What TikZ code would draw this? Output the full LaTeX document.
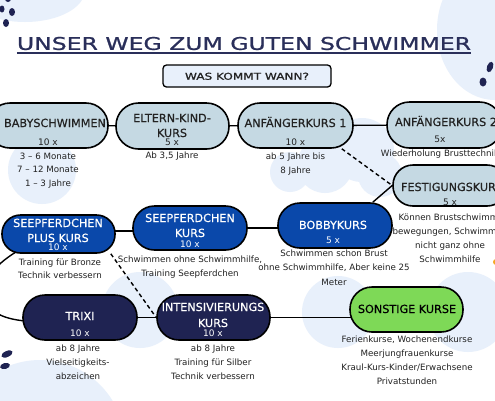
\documentclass[tikz,border=0pt]{standalone}
\usepackage{graphicx}
\usepackage{fontspec}
\setmainfont{DejaVu Sans}
\newfontfamily\headfont[FakeBold=0.9]{DejaVu Sans}
\newfontfamily\midfont[FakeBold=0.4]{DejaVu Sans}
\usetikzlibrary{calc}
\definecolor{pale}{HTML}{C5D9E3}
\definecolor{royal}{HTML}{0A48AA}
\definecolor{navy}{HTML}{1F2352}
\definecolor{lime}{HTML}{7ED957}
\definecolor{blob}{HTML}{E8F0FB}
\definecolor{ink}{HTML}{2A2F5A}
\definecolor{txt}{HTML}{222222}
\definecolor{orng}{HTML}{F5A623}
\pgfdeclarelayer{bg}
\pgfsetlayers{bg,main}
\newcommand{\txtlines}[6]{%
  \foreach \mytext [count=\i] in {#6} {
    \node[#5, anchor=base] (#1-\i) at (#2, {#3+(\i-1)*#4}) {\mytext};
  }}
\tikzset{
  pill/.style={draw=black, line width=1.6pt, inner sep=0pt},
  ttl/.style={font=\midfont\fontsize{11.2}{13}\selectfont, inner sep=0pt, text=txt},
  ttlw/.style={ttl, text=white},
  ttlk/.style={ttl, text=black},
  cnt/.style={font=\fontsize{9}{10}\selectfont, inner sep=0pt, text=txt},
  cntw/.style={cnt, text=white},
  lbl/.style={font=\fontsize{8.7}{10}\selectfont, inner sep=0pt, text=txt},
  conn/.style={line width=1.4pt, draw=black},
  dsh/.style={conn, dash pattern=on 4pt off 3pt},
  dot/.style={fill=navy}
}
\begin{document}
\begin{tikzpicture}[x=1pt,y=-1pt]
\useasboundingbox (0,0) rectangle (495,400);

% title
\node[text=ink, inner sep=0pt] (title) at (244,43.5) {\resizebox{454pt}{13pt}{\headfont UNSER WEG ZUM GUTEN SCHWIMMER}};
\draw[ink, line width=1.5pt] ([yshift=-2.5pt]title.south west) -- ([yshift=-2.5pt]title.south east);
\node[draw=black, line width=1.3pt, fill=blob, rounded corners=3.5pt, minimum width=168pt, minimum height=22pt, inner sep=0pt] (sub) at (247,76) {};
\node[inner sep=0pt, text=txt] (subt) at (247,76.3) {\resizebox{124pt}{7pt}{\headfont WAS KOMMT WANN?}};

% nodes
\node[pill, fill=pale, minimum width=120pt, minimum height=45pt, rounded corners=22pt] (baby) at (48,125.5) {};
\node[pill, fill=pale, minimum width=113pt, minimum height=46pt, rounded corners=22.5pt] (eltern) at (172.5,126) {};
\node[pill, fill=pale, minimum width=115pt, minimum height=45pt, rounded corners=22pt] (anf1) at (295.5,125.5) {};
\node[pill, fill=pale, minimum width=115pt, minimum height=46pt, rounded corners=22.5pt] (anf2) at (444.5,125) {};
\node[pill, fill=pale, minimum width=114pt, minimum height=41pt, rounded corners=20pt] (fest) at (450,185.5) {};
\node[pill, fill=royal, minimum width=113pt, minimum height=38pt, rounded corners=18.5pt] (spp) at (58.5,234) {};
\node[pill, fill=royal, minimum width=114pt, minimum height=44pt, rounded corners=21.5pt] (sk) at (190,228) {};
\node[pill, fill=royal, minimum width=114pt, minimum height=45pt, rounded corners=22pt] (bobby) at (335,225.5) {};
\node[pill, fill=navy, minimum width=114pt, minimum height=45pt, rounded corners=22pt] (trixi) at (80,317.5) {};
\node[pill, fill=navy, minimum width=113pt, minimum height=45pt, rounded corners=22pt] (intens) at (213.5,317.5) {};
\node[pill, fill=lime, minimum width=113pt, minimum height=45pt, rounded corners=22pt] (sonst) at (406.5,309.5) {};

% texts
\txtlines{babyt}{55}{127}{15}{ttl}{BABYSCHWIMMEN}
\txtlines{babyn}{48}{145.5}{0}{cnt}{10 x}
\txtlines{babyl}{48}{159}{13.5}{lbl}{3 – 6 Monate,7 – 12 Monate,1 – 3 Jahre}

\txtlines{eltt}{172}{122}{15}{ttl}{ELTERN-KIND-,KURS}
\txtlines{eltn}{172}{145.5}{0}{cnt}{5 x}
\txtlines{eltl}{172}{158.5}{14}{lbl}{{Ab 3,5 Jahre}}

\txtlines{anf1t}{295.5}{127}{15}{ttl}{ANFÄNGERKURS 1}
\txtlines{anf1n}{295.5}{145.5}{0}{cnt}{10 x}
\txtlines{anf1l}{295.5}{159}{14}{lbl}{ab 5 Jahre bis,8 Jahre}

\txtlines{anf2t}{446}{126}{15}{ttl}{ANFÄNGERKURS 2}
\txtlines{anf2n}{440}{142.5}{0}{cnt}{5x}
\txtlines{anf2l}{440}{156}{14}{lbl}{Wiederholung Brusttechnik}

\txtlines{festt}{452}{191}{15}{ttl}{FESTIGUNGSKURS}
\txtlines{festn}{450}{205.5}{0}{cnt}{5 x}
\txtlines{festl}{450}{220}{14}{lbl}{Können Brustschwimm-,{bewegungen, Schwimmen},nicht ganz ohne,Schwimmhilfe}

\txtlines{sppt}{58}{227}{15}{ttlw}{SEEPFERDCHEN,PLUS KURS}
\txtlines{sppn}{58}{250.5}{0}{cntw}{10 x}
\txtlines{sppl}{60}{265}{13}{lbl}{Training für Bronze,Technik verbessern}

\txtlines{skt}{190}{222}{15}{ttlw}{SEEPFERDCHEN,KURS}
\txtlines{skn}{190}{247.5}{0}{cntw}{10 x}
\txtlines{skl}{190}{262}{14}{lbl}{{Schwimmen ohne Schwimmhilfe,},Training Seepferdchen}

\txtlines{bobt}{333}{229}{15}{ttlw}{BOBBYKURS}
\txtlines{bobn}{333}{243.5}{0}{cntw}{5 x}
\txtlines{bobl}{334}{256}{14.5}{lbl}{Schwimmen schon Brust,{ohne Schwimmhilfe, Aber keine 25},Meter}

\txtlines{trit}{80}{320}{15}{ttlw}{TRIXI}
\txtlines{trin}{80}{336.5}{0}{cntw}{10 x}
\txtlines{tril}{78}{351}{14}{lbl}{ab 8 Jahre,Vielseitigkeits-,abzeichen}

\txtlines{intt}{213}{311}{16}{ttlw}{INTENSIVIERUNGS,KURS}
\txtlines{intn}{213}{336.5}{0}{cntw}{10 x}
\txtlines{intl}{213}{351}{14}{lbl}{ab 8 Jahre,Training für Silber,Technik verbessern}

\txtlines{sont}{407}{313}{15}{ttlk}{SONSTIGE KURSE}
\txtlines{sonl}{407}{342}{14}{lbl}{{Ferienkurse, Wochenendkurse},Meerjungfrauenkurse,Kraul-Kurs-Kinder/Erwachsene,Privatstunden}

\begin{pgfonlayer}{bg}
  \fill[white] (0,0) rectangle (495,400);
  % background blobs
  \fill[blob] (25,-10) ellipse (60pt and 32pt);
  \fill[blob] (495,30) ellipse (58pt and 70pt);
  \fill[blob] (42,170) circle (34pt);
  \fill[blob] (290,172) circle (20pt);
  \fill[blob] (325,165) circle (28pt);
  \fill[blob] (362,150) circle (32pt);
  \fill[blob] (380,175) circle (22pt);
  \fill[blob] (140,310) circle (38pt);
  \fill[blob] (40,445) circle (85pt);
  \fill[blob] (338,312) circle (36pt);
  \fill[blob] (468,312) circle (40pt);
  % dots
  \fill[dot] (2,9) ellipse (2.5pt and 3.5pt);
  \fill[dot] (12,12) ellipse (3pt and 4pt);
  \fill[dot] (6,23) ellipse (3pt and 4pt);
  \fill[dot] (8,-1) circle (3pt);
  \fill[dot, rotate around={-20:(490,67)}] (490,67) ellipse (3pt and 5.5pt);
  \fill[dot] (483,82) ellipse (3.5pt and 4.5pt);
  \fill[dot, rotate around={25:(7,354)}] (7,354) ellipse (6pt and 3pt);
  \fill[dot, rotate around={15:(5,366)}] (5,366) ellipse (5pt and 3pt);
  \fill[orng] (496,262) circle (3pt);
  % connectors
  \draw[conn] (baby) -- (eltern);
  \draw[conn] (eltern) -- (anf1);
  \draw[conn] (anf1) -- (anf2);
  \draw[dsh] ([xshift=-12pt]anf1.south east) -- (fest.west);
  \draw[conn] (fest.west) -- ([xshift=-20pt]bobby.north east);
  \draw[conn] (sk) -- (sk -| bobby);
  \draw[conn] ([yshift=3pt]spp.center) -- ([yshift=3pt]spp.center -| sk.center);
  \draw[dsh] ([xshift=-5pt]spp.south east) -- (intens.west);
  \draw[conn] (spp.center) .. controls (-40,262) and (-50,340) .. (trixi.center);
  \draw[conn] (trixi) -- (intens);
  \draw[conn] (intens) -- (intens -| sonst);
\end{pgfonlayer}
\end{tikzpicture}
\end{document}
